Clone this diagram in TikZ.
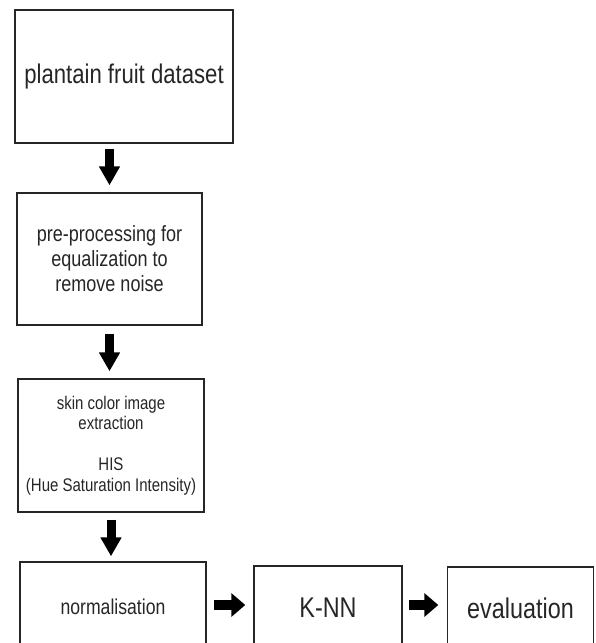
\documentclass[tikz,border=0pt]{standalone}
\usepackage{fontspec}
\setmainfont[FakeStretch=0.82]{Liberation Sans}
\usetikzlibrary{arrows.meta}
\definecolor{ink}{HTML}{262626}
\tikzset{
  box/.style={draw=ink, line width=1.4pt, rectangle, inner sep=0pt, align=center, text=ink},
  varrow/.style={draw=black, line width=9pt, -{Triangle[length=19pt,width=20pt]}},
  harrow/.style={draw=black, line width=10pt, -{Triangle[length=14pt,width=23pt]}}
}
\begin{document}
\begin{tikzpicture}[x=1pt,y=-1pt]
\useasboundingbox (0,0) rectangle (595,643);
\clip (0,0) rectangle (595,643);
\node[box, minimum width=218pt, minimum height=133pt, font=\fontsize{27}{30}\selectfont] (b1) at (124,76.5) {plantain fruit dataset};
\node[box, minimum width=185pt, minimum height=132pt, font=\fontsize{22}{25}\selectfont] (b2) at (109.5,259) {pre-processing for\\equalization to\\remove noise};
\node[box, minimum width=186pt, minimum height=133pt, font=\fontsize{18.3}{20.5}\selectfont] (b3) at (111,445.5) {skin color image\\extraction\\[20.5pt]HIS\\(Hue Saturation Intensity)};
\node[box, minimum width=186pt, minimum height=90pt, font=\fontsize{21.5}{24}\selectfont] (b4) at (113,607) {normalisation};
\node[box, minimum width=148pt, minimum height=84pt, font=\fontsize{28.5}{31}\selectfont] (knn) at (328,608) {K-NN};
\node[box, minimum width=146pt, minimum height=82pt, font=\fontsize{28.5}{31}\selectfont] (ev) at (520.5,608) {evaluation};
\draw[varrow, shorten <=5pt, shorten >=7pt] (b1.south -| b2.north) -- (b2.north);
\draw[varrow, shorten <=8pt, shorten >=7pt] (b2.south) -- (b2.south |- b3.north);
\draw[varrow, shorten <=7pt, shorten >=5pt] (b3.south) -- (b3.south |- b4.north);
\draw[harrow, shorten <=7pt, shorten >=8pt] (b4.east |- 0,605) -- (knn.west |- 0,605);
\draw[harrow, shorten <=6pt, shorten >=8.5pt] (knn.east |- 0,605) -- (ev.west |- 0,605);
\end{tikzpicture}
\end{document}
